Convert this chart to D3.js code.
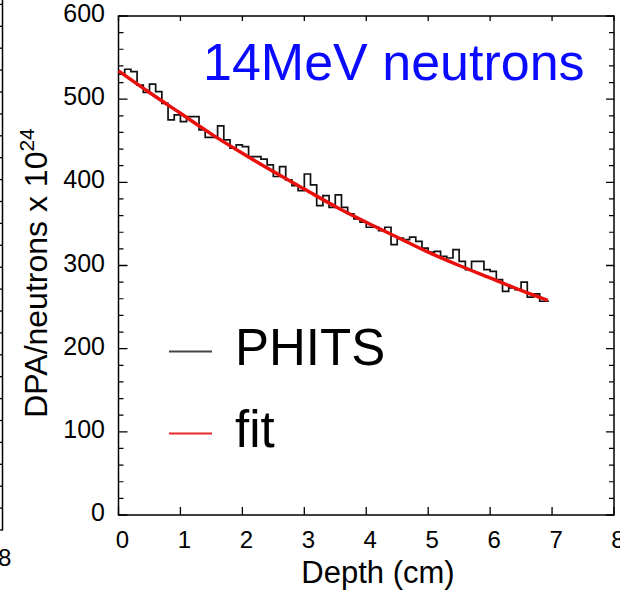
<!DOCTYPE html>
<html>
<head>
<meta charset="utf-8">
<script src="https://cdn.jsdelivr.net/npm/d3@7"></script>
<style>
  body { margin: 0; background: #fff; }
  svg text { font-family: "Liberation Sans", Arial, Helvetica, sans-serif; }
</style>
</head>
<body>
<div id="chart"></div>
<script>
// PHITS histogram, 0.1 cm bins (left edge of each bin)
var binDepth = [0.0, 0.1, 0.2, 0.3, 0.4, 0.5, 0.6, 0.7, 0.8, 0.9,
  1.0, 1.1, 1.2, 1.3, 1.4, 1.5, 1.6, 1.7, 1.8, 1.9,
  2.0, 2.1, 2.2, 2.3, 2.4, 2.5, 2.6, 2.7, 2.8, 2.9,
  3.0, 3.1, 3.2, 3.3, 3.4, 3.5, 3.6, 3.7, 3.8, 3.9,
  4.0, 4.1, 4.2, 4.3, 4.4, 4.5, 4.6, 4.7, 4.8, 4.9,
  5.0, 5.1, 5.2, 5.3, 5.4, 5.5, 5.6, 5.7, 5.8, 5.9,
  6.0, 6.1, 6.2, 6.3, 6.4, 6.5, 6.6, 6.7, 6.8, 6.95];
var phitsDpa = [530, 536, 533, 517, 508, 518, 509, 495, 475, 481,
  473, 479, 479, 463, 454, 454, 468, 451, 441, 445,
  443, 431, 431, 428, 421, 407, 419, 403, 396, 390,
  410, 397, 372, 384, 370, 385, 370, 362, 356, 352,
  346, 346, 342, 346, 325, 333, 331, 334, 329, 321,
  316, 317, 311, 309, 319, 305, 295, 305, 305, 295,
  293, 283, 269, 273, 271, 280, 262, 266, 257, 257];

// fitted curve, read at a few depths
var fitDepth = [0, 0.5, 1, 1.5, 2, 2.5, 3, 3.5, 4, 4.5, 5, 5.5, 6, 6.5, 6.93];
var fitDpa = [534, 508, 483, 458, 435, 413, 392, 371, 352, 334, 316, 300, 285, 270, 258];

var xTicks = [0, 1, 2, 3, 4, 5, 6, 7, 8];
var yTicks = [0, 100, 200, 300, 400, 500, 600];
var yMinor = [20, 40, 60, 80, 120, 140, 160, 180, 220, 240, 260, 280, 320, 340, 360, 380, 420, 440, 460, 480, 520, 540, 560, 580];
var legendNames = ['PHITS', 'fit'];
var legendColors = ['#444', '#e8282a'];
var leftPanelTicks = [0, 1, 2, 3, 4, 5, 6, 7, 8, 9, 10, 11, 12, 13, 14, 15, 16, 17, 18, 19, 20, 21, 22, 23, 24];

var W = 620, H = 592;
var pL = 118.5, pR = 614, pT = 16, pB = 515;

var svg = d3.select('#chart')
  .append('svg')
  .attr('width', W)
  .attr('height', H);

var x = d3.scaleLinear().domain([0, 8]).range([pL, pR]);
var y = d3.scaleLinear().domain([0, 600]).range([pB, pT]);

// bit of the neighbouring panel on the left edge
var yl = d3.scaleLinear().domain([0, 24]).range([530, 530 - 24 * 21.9]);
svg.append('line')
  .attr('x1', 2.5).attr('x2', 2.5).attr('y1', 0).attr('y2', 530.5)
  .attr('stroke', '#000').attr('stroke-width', 1.5);
svg.selectAll('.ltick')
  .data(leftPanelTicks)
  .enter()
  .append('line')
  .attr('x1', -1).attr('x2', 2.5)
  .attr('y1', function(d) { return yl(d); })
  .attr('y2', function(d) { return yl(d); })
  .attr('stroke', '#000').attr('stroke-width', 1.3);
svg.append('text')
  .attr('x', -2).attr('y', 566)
  .attr('font-size', 24)
  .text('8');

// frame
svg.append('rect')
  .attr('x', pL).attr('y', pT)
  .attr('width', pR - pL).attr('height', pB - pT)
  .attr('fill', 'none').attr('stroke', '#000').attr('stroke-width', 1.5);

// x ticks bottom + top
svg.selectAll('.xt')
  .data(xTicks)
  .enter()
  .append('path')
  .attr('d', function(d) { return 'M' + x(d) + ',' + pB + 'v-8M' + x(d) + ',' + pT + 'v5'; })
  .attr('stroke', '#000').attr('stroke-width', 1.3);

svg.selectAll('.xl')
  .data(xTicks)
  .enter()
  .append('text')
  .attr('x', function(d) { return x(d) + 4; })
  .attr('y', pB + 33)
  .attr('text-anchor', 'middle')
  .attr('font-size', 24)
  .text(function(d) { return d; });

// y ticks left + right
svg.selectAll('.yt')
  .data(yTicks)
  .enter()
  .append('path')
  .attr('d', function(d) { return 'M' + pL + ',' + y(d) + 'h9M' + pR + ',' + y(d) + 'h-8'; })
  .attr('stroke', '#000').attr('stroke-width', 1.3);
svg.selectAll('.ym')
  .data(yMinor)
  .enter()
  .append('path')
  .attr('d', function(d) { return 'M' + pL + ',' + y(d) + 'h5M' + pR + ',' + y(d) + 'h-5'; })
  .attr('stroke', '#000').attr('stroke-width', 1.2);

svg.selectAll('.yl')
  .data(yTicks)
  .enter()
  .append('text')
  .attr('x', 105)
  .attr('y', function(d) { return y(d) + 6; })
  .attr('text-anchor', 'end')
  .attr('font-size', 25)
  .text(function(d) { return d; });

// axis titles
svg.append('text')
  .attr('x', 378).attr('y', 583)
  .attr('text-anchor', 'middle')
  .attr('font-size', 31)
  .text('Depth (cm)');

var yt = svg.append('text')
  .attr('transform', 'translate(47,273) rotate(-90)')
  .attr('text-anchor', 'middle')
  .attr('font-size', 32);
yt.append('tspan').text('DPA/neutrons x 10');
yt.append('tspan').attr('dy', -13).attr('font-size', 21).text('24');

// histogram
var step = d3.line()
  .x(function(d, i) { return x(binDepth[i]); })
  .y(function(d) { return y(d); })
  .curve(d3.curveStepAfter);
svg.append('path')
  .attr('d', step(phitsDpa))
  .attr('fill', 'none')
  .attr('stroke', '#111')
  .attr('stroke-width', 1.7);

// fit
var fitLine = d3.line()
  .x(function(d, i) { return x(fitDepth[i]); })
  .y(function(d) { return y(d); })
  .curve(d3.curveMonotoneX);
svg.append('path')
  .attr('d', fitLine(fitDpa))
  .attr('fill', 'none')
  .attr('stroke', '#e8100c')
  .attr('stroke-width', 3.5);

// label
svg.append('text')
  .attr('x', 203).attr('y', 80)
  .attr('font-size', 52)
  .attr('fill', '#0a0aff')
  .text('14MeV neutrons');

// legend
var lg = svg.selectAll('.lg')
  .data(legendNames)
  .enter()
  .append('g')
  .attr('transform', function(d, i) { return 'translate(0,' + (i * 82) + ')'; });
lg.append('line')
  .attr('x1', 169).attr('x2', 212)
  .attr('y1', 351.5).attr('y2', 351.5)
  .attr('stroke', function(d, i) { return legendColors[i]; })
  .attr('stroke-width', 2);
lg.append('text')
  .attr('x', 235).attr('y', 365)
  .attr('font-size', 51)
  .text(function(d) { return d; });
</script>
</body>
</html>
